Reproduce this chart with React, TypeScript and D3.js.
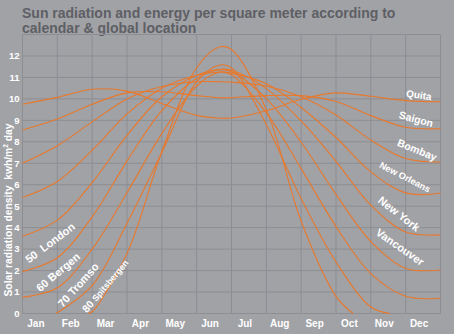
import React, { useEffect, useRef } from "react";
import * as d3 from "d3";

const W = 454;
const H = 334;
const BG = "#a1a2a6";
const GRID = "#8d8e93";
const ORANGE = "#e8782c";
const TITLE_COLOR = "#5e5f65";

const TITLE_LINES = ["Sun radiation and energy per square meter according to", "calendar & global location"];
const MONTHS = ["Jan", "Feb", "Mar", "Apr", "May", "Jun", "Jul", "Aug", "Sep", "Oct", "Nov", "Dec"];
const Y_TICKS = [0, 1, 2, 3, 4, 5, 6, 7, 8, 9, 10, 11, 12];

// month position (0 = 1 Jan, 12 = 31 Dec)
const XM = [0, 1, 2, 3, 4, 5, 5.67, 6, 7, 8, 9, 10, 11, 12];
const QUITA = [9.75, 10.07, 10.45, 10.36, 9.78, 9.23, 9.1, 9.11, 9.45, 9.98, 10.28, 10.12, 9.92, 9.87];
const SAIGON = [8.55, 9.06, 9.75, 10.28, 10.33, 10.15, 10.05, 10.06, 10.15, 10.15, 9.88, 9.22, 8.68, 8.61];
const BOMBAY = [7.0, 7.82, 8.93, 10.0, 10.58, 10.8, 10.8, 10.78, 10.6, 10.1, 9.25, 8.08, 7.22, 7.05];
const NEW_ORLEANS = [5.4, 6.15, 7.6, 9.3, 10.5, 11.1, 11.25, 11.2, 10.7, 9.6, 8.2, 6.6, 5.62, 5.6];
const NEW_YORK = [3.6, 4.35, 6.1, 8.3, 10.1, 11.1, 11.38, 11.33, 10.48, 8.97, 7.09, 5.05, 3.8, 3.66];
const LAT50 = [1.95, 2.6, 4.5, 7.1, 9.45, 10.95, 11.36, 11.27, 10.01, 7.98, 5.55, 3.35, 2.1, 2.03];
const LAT60 = [0.75, 1.2, 3.0, 5.63, 8.38, 10.6, 11.25, 11.12, 9.35, 6.75, 4.05, 1.86, 0.8, 0.71];
const XT = [0.96, 2, 3, 4, 5, 5.67, 6, 7, 8, 9, 10, 10.55];
const TROMSO = [0, 1.3, 4.2, 7.5, 10.8, 11.58, 11.45, 8.8, 5.35, 2.4, 0.3, 0];
const XS = [1.88, 2, 3, 4, 5, 5.67, 6, 7, 8, 9, 9.49];
const SPITSBERGEN = [0, 0.08, 2.8, 7.55, 11.45, 12.43, 12.3, 9.5, 4.3, 0.8, 0];

// curve labels: text, month position, value position, angle, font size
const LABEL_TEXT = ["Quita", "Saigon", "Bombay", "New Orleans", "New York", "Vancouver", "50  London", "60 Bergen", "70 Tromso"];
const LABEL_M = [11.38, 11.3, 11.33, 10.98, 10.81, 10.84, 0.79, 1.02, 1.6];
const LABEL_V = [10.18, 9.06, 7.62, 6.36, 4.64, 3.1, 3.29, 1.93, 1.33];
const LABEL_ANGLE = [8, 15, 22, 27, 38, 35, -37, -40, -48];
const LABEL_SIZE = [10, 10.5, 10.5, 9.2, 11, 11, 11, 11, 11];

export default function App() {
  const ref = useRef<SVGSVGElement>(null);

  useEffect(() => {
    const svg = d3.select(ref.current);
    svg.selectAll("*").remove();
    const font = "'Liberation Sans', Arial, Helvetica, sans-serif";

    const x = d3.scaleLinear().domain([0, 12]).range([22.5, 440.5]);
    const y = d3.scaleLinear().domain([0, 13]).range([313.5, 34.5]);

    svg.append("rect").attr("width", W).attr("height", H).attr("fill", BG);

    // title
    TITLE_LINES.forEach((l, i) => {
      svg.append("text").attr("font-family", font).attr("font-weight", "bold")
        .attr("font-size", 14).attr("fill", TITLE_COLOR)
        .attr("x", 22).attr("y", 17.5 + i * 15.6).text(l);
    });

    // grid
    const g = svg.append("g");
    g.selectAll("line.v").data(d3.range(13)).enter().append("line")
      .attr("x1", (d) => x(d)).attr("x2", (d) => x(d))
      .attr("y1", y(13)).attr("y2", y(0))
      .attr("stroke", GRID).attr("stroke-width", 1);
    g.selectAll("line.h").data(d3.range(14)).enter().append("line")
      .attr("x1", x(0)).attr("x2", x(12))
      .attr("y1", (d) => y(d)).attr("y2", (d) => y(d))
      .attr("stroke", GRID).attr("stroke-width", 1);

    // y ticks
    svg.append("g").selectAll("text").data(Y_TICKS).enter().append("text")
      .attr("x", 19.5).attr("y", (d) => y(d)).attr("dy", "0.35em")
      .attr("text-anchor", "end").attr("font-family", font).attr("font-weight", "bold")
      .attr("font-size", 9.5).attr("fill", "#ffffff").text((d) => d);

    // months
    svg.append("g").selectAll("text").data(MONTHS).enter().append("text")
      .attr("x", (d, i) => x(i + 0.5) - 4).attr("y", 327)
      .attr("text-anchor", "middle").attr("font-family", font).attr("font-weight", "bold")
      .attr("font-size", 10).attr("fill", "#ffffff").text((d) => d);

    // y title
    const yt = svg.append("text").attr("transform", "translate(11.5,210) rotate(-90)")
      .attr("text-anchor", "middle").attr("font-family", font).attr("font-weight", "bold")
      .attr("font-size", 10.3).attr("fill", "#ffffff")
      .style("white-space", "pre");
    yt.append("tspan").text("Solar radiation density  kwh/m");
    yt.append("tspan").attr("font-size", 6.5).attr("dy", -4).text("2");
    yt.append("tspan").attr("dy", 4).text(" day");

    // curves
    const series: [number[], number[]][] = [
      [XM, QUITA], [XM, SAIGON], [XM, BOMBAY], [XM, NEW_ORLEANS], [XM, NEW_YORK],
      [XM, LAT50], [XM, LAT60], [XT, TROMSO], [XS, SPITSBERGEN],
    ];
    const line = d3.line<[number, number]>()
      .x((d) => x(d[0])).y((d) => y(d[1]))
      .curve(d3.curveCatmullRom.alpha(0.5));
    svg.append("g").selectAll("path").data(series).enter().append("path")
      .attr("d", (s) => line(s[0].map((m, i) => [m, s[1][i]] as [number, number])))
      .attr("fill", "none").attr("stroke", ORANGE).attr("stroke-width", 1.1);

    // labels
    const lg = svg.append("g");
    LABEL_TEXT.forEach((txt, i) => {
      lg.append("text")
        .attr("transform", `translate(${x(LABEL_M[i])},${y(LABEL_V[i])}) rotate(${LABEL_ANGLE[i]})`)
        .attr("text-anchor", "middle").attr("dy", "0.35em")
        .attr("font-family", font).attr("font-weight", "bold")
        .attr("font-size", LABEL_SIZE[i]).attr("fill", "#ffffff")
        .style("white-space", "pre").text(txt);
    });
    const sp = lg.append("text")
      .attr("transform", `translate(${x(2.33)},${y(1.35)}) rotate(-50)`)
      .attr("text-anchor", "middle").attr("dy", "0.35em")
      .attr("font-family", font).attr("font-weight", "bold").attr("fill", "#ffffff");
    sp.append("tspan").attr("font-size", 10.5).text("80 ");
    sp.append("tspan").attr("font-size", 8.8).text("Spitsbergen");
  }, []);

  return (
    <div style={{ position: "fixed", left: 0, top: 0, width: W, height: H, background: BG }}>
      <svg ref={ref} width={W} height={H} style={{ display: "block" }} />
    </div>
  );
}
